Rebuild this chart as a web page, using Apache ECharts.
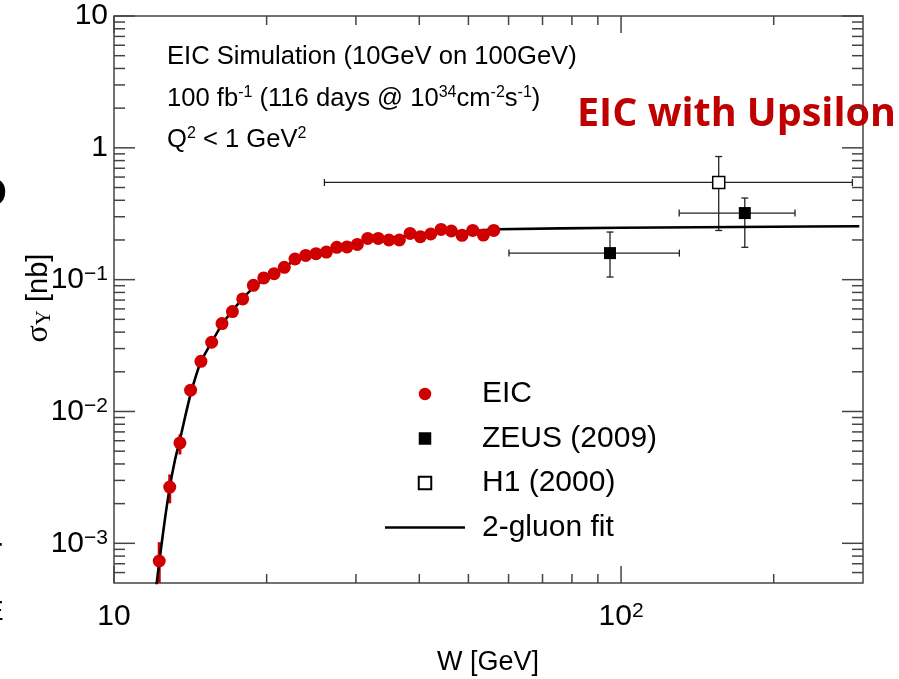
<!DOCTYPE html>
<html>
<head>
<meta charset="utf-8">
<title>Upsilon cross section</title>
<script src="https://cdn.jsdelivr.net/npm/echarts@6.0.0/dist/echarts.min.js"></script>
<style>
html,body{margin:0;padding:0;background:#fff;}
#chart{width:899px;height:679px;}
</style>
</head>
<body>
<div id="chart"></div>
<script>
// EIC pseudo data
var eicW = [12.28, 12.88, 13.49, 14.16, 14.84, 15.58, 16.33, 17.12, 17.94, 18.83, 19.74,
	20.69, 21.67, 22.75, 23.88, 25.03, 26.23, 27.50, 28.81, 30.19, 31.65, 33.20,
	34.85, 36.54, 38.36, 40.19, 42.14, 44.16, 46.27, 48.57, 51.00, 53.51, 56.09];
var eicS = [7.34e-4, 2.67e-3, 5.77e-3, 0.0145, 0.0240, 0.0335, 0.0464, 0.0573, 0.0714, 0.0905, 0.103,
	0.111, 0.124, 0.1435, 0.1528, 0.1574, 0.162, 0.176, 0.177, 0.185, 0.2056, 0.2056,
	0.200, 0.200, 0.2244, 0.2118, 0.222, 0.2404, 0.234, 0.2168, 0.2363, 0.218, 0.2363];
// visible error bars (the others are hidden by the markers)
var eicErrW = [12.28, 12.88, 13.49];
var eicErrLow = [4.0e-4, 2.01e-3, 4.72e-3];
var eicErrHigh = [1.02e-3, 3.33e-3, 6.70e-3];

// ZEUS (2009)
var zeusW = [95.1, 175.4];
var zeusS = [0.159, 0.320];
var zeusWLow = [60.1, 130.2];
var zeusWHigh = [130.3, 220.3];
var zeusSLow = [0.1047, 0.176];
var zeusSHigh = [0.2297, 0.416];

// H1 (2000)
var h1W = [155.8];
var h1S = [0.546];
var h1WLow = [26.0];
var h1WHigh = [285.9];
var h1SLow = [0.236];
var h1SHigh = [0.859];

// 2-gluon fit curve
var fitW = [12.10, 12.29, 12.55, 12.87, 13.19, 13.49, 13.80, 14.16, 14.56, 14.84, 15.58, 16.33,
	17.12, 17.94, 18.83, 19.74, 20.69, 22.75, 25.03, 27.50, 30.19, 33.20, 36.54, 40.19,
	44.16, 48.57, 53.51, 57.2, 100, 200, 295];
var fitS = [4.5e-4, 7.31e-4, 1.36e-3, 2.61e-3, 4.28e-3, 6.1e-3, 8.97e-3, 0.01355, 0.01945, 0.0239, 0.0336, 0.0456,
	0.0582, 0.0718, 0.0870, 0.100, 0.113, 0.139, 0.160, 0.176, 0.1907, 0.2026, 0.2117, 0.2193,
	0.2271, 0.2331, 0.2371, 0.2414, 0.2477, 0.252, 0.2540];

// ticks
var xMajorTicks = [10, 100];
var xMinorTicks = [20, 30, 40, 50, 60, 70, 80, 90, 200];
var yMajorTicks = [0.001, 0.01, 0.1, 1, 10];
var yMinorTicks = [6e-4, 7e-4, 8e-4, 9e-4,
	2e-3, 3e-3, 4e-3, 5e-3, 6e-3, 7e-3, 8e-3, 9e-3,
	0.02, 0.03, 0.04, 0.05, 0.06, 0.07, 0.08, 0.09,
	0.2, 0.3, 0.4, 0.5, 0.6, 0.7, 0.8, 0.9,
	2, 3, 4, 5, 6, 7, 8, 9];

var FONT = 'Liberation Sans';
var frameColor = '#444';

function zip() {
	var cols = arguments, out = [];
	for (var i = 0; i < cols[0].length; i++) {
		var row = [];
		for (var j = 0; j < cols.length; j++) row.push(cols[j][i]);
		out.push(row);
	}
	return out;
}

function powLabel(v, minus) {
	var e = Math.round(Math.log(v) / Math.LN10);
	if (Math.abs(Math.log(v) / Math.LN10 - e) > 1e-6) return '';
	if (e === 0) return '{b|1}';
	if (e === 1) return '{b|10}';
	return '{b|10}{sup|' + (e < 0 ? minus + (-e) : e) + '}';
}

var labelRich = {
	b: {fontSize: 30, fontFamily: FONT, color: '#000', lineHeight: 32},
	sup: {fontSize: 21, fontFamily: FONT, color: '#000', verticalAlign: 'top', lineHeight: 21}
};

function tickSeries(values, axis, len) {
	return {
		type: 'custom',
		silent: true,
		z: 5,
		data: values.map(function (v) { return axis === 'x' ? [v, 1] : [10, v]; }),
		renderItem: function (params, api) {
			var cs = params.coordSys;
			var p = api.coord([api.value(0), api.value(1)]);
			var st = {stroke: frameColor, lineWidth: 1.5};
			if (axis === 'x') {
				var yb = cs.y + cs.height, yt = cs.y;
				return {type: 'group', children: [
					{type: 'line', shape: {x1: p[0], y1: yb, x2: p[0], y2: yb - len}, style: st},
					{type: 'line', shape: {x1: p[0], y1: yt, x2: p[0], y2: yt + len}, style: st}
				]};
			}
			var xl = cs.x, xr = cs.x + cs.width;
			return {type: 'group', children: [
				{type: 'line', shape: {x1: xl, y1: p[1], x2: xl + len, y2: p[1]}, style: st},
				{type: 'line', shape: {x1: xr, y1: p[1], x2: xr - len, y2: p[1]}, style: st}
			]};
		}
	};
}

function boxErrorSeries(rows) {
	return {
		type: 'custom',
		silent: true,
		clip: true,
		z: 3,
		data: rows,
		encode: {x: 0, y: 1},
		renderItem: function (params, api) {
			var w = api.value(0), s = api.value(1);
			var l = api.coord([api.value(2), s]), r = api.coord([api.value(3), s]);
			var b = api.coord([w, api.value(4)]), t = api.coord([w, api.value(5)]);
			var st = {stroke: '#222', lineWidth: 1.3};
			var c = 3.5;
			return {type: 'group', children: [
				{type: 'line', shape: {x1: l[0], y1: l[1], x2: r[0], y2: r[1]}, style: st},
				{type: 'line', shape: {x1: l[0], y1: l[1] - c, x2: l[0], y2: l[1] + c}, style: st},
				{type: 'line', shape: {x1: r[0], y1: r[1] - c, x2: r[0], y2: r[1] + c}, style: st},
				{type: 'line', shape: {x1: b[0], y1: b[1], x2: t[0], y2: t[1]}, style: st},
				{type: 'line', shape: {x1: b[0] - c, y1: b[1], x2: b[0] + c, y2: b[1]}, style: st},
				{type: 'line', shape: {x1: t[0] - c, y1: t[1], x2: t[0] + c, y2: t[1]}, style: st}
			]};
		}
	};
}

var myChart = echarts.init(document.getElementById('chart'), null, {renderer: 'canvas'});

var sup = {fontSize: 16, fontFamily: FONT, fill: '#000', verticalAlign: 'top', lineHeight: 16};
var base = {fontSize: 25.6, fontFamily: FONT, fill: '#000', lineHeight: 28};
var squareIcon = 'path://M0,0L10,0L10,10L0,10Z';

var option = {
	animation: false,
	backgroundColor: '#fff',
	grid: {
		left: 114, top: 16, width: 749, height: 567,
		show: true, borderColor: frameColor, borderWidth: 1.5, backgroundColor: 'transparent'
	},
	xAxis: {
		type: 'log', logBase: 10, min: 10, max: 300,
		axisLine: {show: false}, axisTick: {show: false}, splitLine: {show: false},
		axisLabel: {
			margin: 18, showMaxLabel: false,
			formatter: function (v) { return powLabel(v, '−'); },
			rich: labelRich
		}
	},
	yAxis: {
		type: 'log', logBase: 10, min: 5e-4, max: 10,
		axisLine: {show: false}, axisTick: {show: false}, splitLine: {show: false},
		axisLabel: {
			margin: 6,
			formatter: function (v) { return powLabel(v, '−'); },
			rich: labelRich
		}
	},
	legend: {
		orient: 'vertical', left: 385, top: 379, padding: 0,
		itemWidth: 80, itemHeight: 12.5, itemGap: 14.5,
		symbolKeepAspect: true,
		textStyle: {fontSize: 30, fontFamily: FONT, color: '#000', lineHeight: 30, padding: [0, 0, 0, 12]},
		data: [
			{name: 'EIC', icon: 'circle'},
			{name: 'ZEUS (2009)', icon: squareIcon},
			{name: 'H1 (2000)', icon: squareIcon},
			{name: '2-gluon fit', icon: 'path://M0,0L80,0L80,2.6L0,2.6Z'}
		]
	},
	graphic: [
		{type: 'text', x: 167, y: 57, style: {text: 'EIC Simulation (10GeV on 100GeV)', fontSize: 25.6, fontFamily: FONT, fill: '#000', verticalAlign: 'middle'}},
		{type: 'text', x: 167, y: 99, style: {
			text: '{b|100 fb}{s|-1}{b| (116 days @ 10}{s|34}{b|cm}{s|-2}{b|s}{s|-1}{b|)}',
			verticalAlign: 'middle', rich: {b: base, s: sup}}},
		{type: 'text', x: 167, y: 140, style: {
			text: '{b|Q}{s|2}{b| < 1 GeV}{s|2}',
			verticalAlign: 'middle', rich: {b: base, s: sup}}},
		{type: 'text', x: 577, y: 115, style: {text: 'EIC with Upsilon', fontSize: 39.5, fontWeight: 'bold', fontFamily: 'Open Sans', fill: '#c00000', verticalAlign: 'middle'}},
		{type: 'text', x: 488, y: 663, style: {text: 'W [GeV]', fontSize: 27, fontFamily: FONT, fill: '#000', align: 'center', verticalAlign: 'middle'}},
		{type: 'text', x: 39, y: 298, rotation: Math.PI / 2, style: {
			text: '{s|σ}{u|Υ}{n| [nb]}', align: 'center', verticalAlign: 'middle',
			rich: {
				s: {fontSize: 32, fontFamily: 'Liberation Serif', fill: '#000', lineHeight: 32},
				u: {fontSize: 21, fontFamily: 'Liberation Serif', fill: '#000', verticalAlign: 'bottom', lineHeight: 21},
				n: {fontSize: 29, fontFamily: FONT, fill: '#000', lineHeight: 32}
			}}},
		// clipped fragments of neighbouring slide text
		{type: 'text', x: -22, y: 195, style: {text: 'D', fontSize: 40, fontWeight: 'bold', fontFamily: FONT, fill: '#000', verticalAlign: 'middle'}},
		{type: 'text', x: -9, y: 552, style: {text: 'r', fontSize: 34, fontFamily: FONT, fill: '#000', verticalAlign: 'middle'}},
		{type: 'text', x: -15, y: 612, style: {text: 'E', fontSize: 28, fontFamily: FONT, fill: '#000', verticalAlign: 'middle'}}
	],
	series: [
		tickSeries(xMajorTicks, 'x', 17),
		tickSeries(xMinorTicks, 'x', 9),
		tickSeries(yMajorTicks, 'y', 21),
		tickSeries(yMinorTicks, 'y', 11),
		{
			type: 'custom',
			silent: true,
			clip: true,
			z: 3,
			data: zip(eicErrW, eicErrLow, eicErrHigh),
			encode: {x: 0, y: 1},
			renderItem: function (params, api) {
				var lo = api.coord([api.value(0), api.value(1)]);
				var hi = api.coord([api.value(0), api.value(2)]);
				return {type: 'line', shape: {x1: lo[0], y1: lo[1], x2: hi[0], y2: hi[1]},
					style: {stroke: '#d00000', lineWidth: 3}};
			}
		},
		boxErrorSeries(zip(zeusW, zeusS, zeusWLow, zeusWHigh, zeusSLow, zeusSHigh)),
		boxErrorSeries(zip(h1W, h1S, h1WLow, h1WHigh, h1SLow, h1SHigh)),
		{
			name: '2-gluon fit',
			type: 'line',
			data: zip(fitW, fitS),
			symbol: 'none',
			smooth: 0.3,
			z: 4,
			lineStyle: {color: '#000', width: 2.6},
			itemStyle: {color: '#000'}
		},
		{
			name: 'EIC',
			type: 'scatter',
			data: zip(eicW, eicS),
			symbol: 'circle',
			symbolSize: 13,
			z: 6,
			itemStyle: {color: '#d00000', opacity: 1}
		},
		{
			name: 'ZEUS (2009)',
			type: 'scatter',
			data: zip(zeusW, zeusS),
			symbol: 'rect',
			symbolSize: 12,
			z: 6,
			itemStyle: {color: '#000', opacity: 1}
		},
		{
			name: 'H1 (2000)',
			type: 'scatter',
			data: zip(h1W, h1S),
			symbol: 'rect',
			symbolSize: 12,
			z: 6,
			itemStyle: {color: '#fff', borderColor: '#000', borderWidth: 1.5, opacity: 1}
		}
	]
};
myChart.setOption(option);
</script>
</body>
</html>
